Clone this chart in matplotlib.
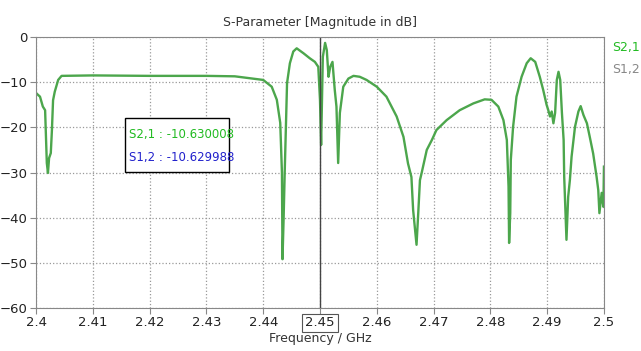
import numpy as np
import matplotlib.pyplot as plt

# S2,1 trace (frequency in GHz, magnitude in dB)
freq = [2.4000, 2.4007, 2.4012, 2.4016, 2.4019, 2.4021, 2.4023, 2.4026, 2.4028,
        2.4030, 2.4033, 2.4039, 2.4045, 2.4100, 2.4200, 2.4300, 2.4350, 2.4400,
        2.4415, 2.4424, 2.4430, 2.4433, 2.4434, 2.4436, 2.4438, 2.4442, 2.4447,
        2.4453, 2.4459, 2.4471, 2.4482, 2.4491, 2.4497, 2.4500, 2.4502, 2.4505,
        2.4509, 2.4512, 2.4515, 2.4518, 2.4522, 2.4526, 2.4529, 2.4532, 2.4535,
        2.4541, 2.4550, 2.4559, 2.4570, 2.4582, 2.4600, 2.4617, 2.4635, 2.4647,
        2.4655, 2.4661, 2.4664, 2.4670, 2.4673, 2.4676, 2.4679, 2.4688, 2.4697,
        2.4705, 2.4723, 2.4746, 2.4770, 2.4790, 2.4802, 2.4814, 2.4823, 2.4829,
        2.4832, 2.4833, 2.4835, 2.4836, 2.4840, 2.4846, 2.4855, 2.4864, 2.4871,
        2.4879, 2.4887, 2.4893, 2.4899, 2.4902, 2.4905, 2.4908, 2.4911, 2.4914,
        2.4917, 2.4920, 2.4923, 2.4926, 2.4929, 2.4930, 2.4934, 2.4937, 2.4940,
        2.4943, 2.4949, 2.4955, 2.4959, 2.4964, 2.4970, 2.4975, 2.4981, 2.4987,
        2.4990, 2.4992, 2.4996, 2.4999, 2.5000]
s21 = [-12.4, -13.2, -15.4, -16.2, -27.9, -30.1, -26.8, -25.7, -20.6,
       -14.0, -12.1, -9.5, -8.6, -8.5, -8.6, -8.6, -8.7, -9.5,
       -11.0, -13.9, -19.0, -30.0, -49.2, -40.0, -29.4, -10.2, -5.8,
       -3.2, -2.5, -3.6, -4.7, -5.5, -6.6, -13.9, -23.9, -4.4,
       -1.3, -2.9, -8.8, -6.6, -5.5, -11.7, -15.4, -27.9, -16.8,
       -11.0, -9.2, -8.6, -8.8, -9.5, -11.0, -13.2, -17.6, -22.1,
       -28.0, -31.0, -38.3, -46.0, -39.0, -31.7, -30.1, -25.0, -22.8,
       -20.6, -18.4, -16.2, -14.7, -13.8, -13.9, -15.4, -18.4, -22.8,
       -33.1, -45.6, -39.0, -27.2, -19.9, -13.2, -8.8, -5.8, -4.7,
       -5.5, -8.8, -11.7, -15.0, -16.2, -17.6, -16.5, -19.1, -16.8,
       -9.5, -7.7, -9.5, -16.8, -22.8, -30.9, -44.9, -35.4, -31.7,
       -26.5, -19.9, -16.5, -15.3, -17.3, -19.1, -22.1, -25.8, -30.9,
       -33.9, -39.0, -34.5, -37.6, -28.7]

xticks = [2.4, 2.41, 2.42, 2.43, 2.44, 2.45, 2.46, 2.47, 2.48, 2.49, 2.5]
xtick_labels = ['2.4', '2.41', '2.42', '2.43', '2.44', '2.45', '2.46', '2.47', '2.48', '2.49', '2.5']
yticks = [0, -10, -20, -30, -40, -50, -60]
marker_f = 2.45
marker_text = ['S2,1 : -10.630008', 'S1,2 : -10.629988']

plt.rcParams['font.family'] = 'DejaVu Sans'
fig = plt.figure(figsize=(6.41, 3.51), dpi=100)
ax = fig.add_axes([0.0562, 0.1225, 0.886, 0.772])

ax.plot(freq, s21, color='#4ca64c', lw=1.7)
ax.axvline(marker_f, color='#444444', lw=1.0)

ax.set_xlim(2.4, 2.5)
ax.set_ylim(-60, 0)
ax.set_xticks(xticks)
ax.set_xticklabels(xtick_labels)
ax.set_yticks(yticks)
ax.grid(True, color='#999999', ls=':', lw=0.9)
for s in ax.spines.values():
    s.set_color('#888888')
ax.tick_params(colors='#888888', labelcolor='#222222', labelsize=9.5, length=4, pad=2)
for lab in ax.get_xticklabels():
    if lab.get_text() == '2.45':
        lab.set_bbox(dict(facecolor='white', edgecolor='#555555', lw=0.8, pad=2))

ax.set_title('S-Parameter [Magnitude in dB]', fontsize=9, color='#333333', pad=8)
ax.set_xlabel('Frequency / GHz', fontsize=9, color='#333333', labelpad=2)

# trace legend at the right edge
fig.text(0.955, 0.855, 'S2,1', color='#22bb22', fontsize=9)
fig.text(0.955, 0.793, 'S1,2', color='#888888', fontsize=9)

# marker readout box
ax.add_patch(plt.Rectangle((2.4157, -29.9), 0.0183, 12.0, facecolor='white',
                           edgecolor='black', lw=1.0, zorder=5))
ax.text(2.4163, -21.5, marker_text[0], color='#22bb22', fontsize=8.5, va='center', zorder=6)
ax.text(2.4163, -26.6, marker_text[1], color='#2222cc', fontsize=8.5, va='center', zorder=6)

fig.savefig('out.png', dpi=100)
